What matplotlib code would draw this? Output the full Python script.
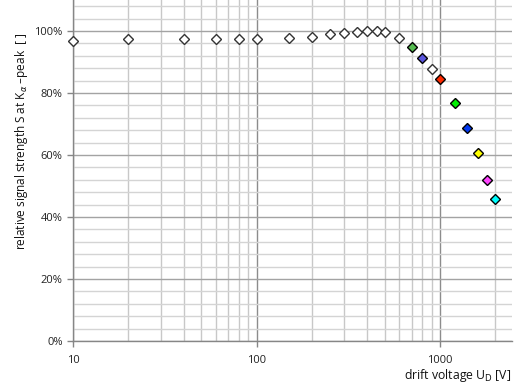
import matplotlib
matplotlib.use("Agg")
import matplotlib.pyplot as plt
from matplotlib.ticker import FixedLocator, NullFormatter, FuncFormatter, MultipleLocator

plt.rcParams['font.family'] = ['Open Sans', 'DejaVu Sans']
plt.rcParams['mathtext.fontset'] = 'dejavusans'

# drift voltage [V] and relative signal strength
voltage = [10, 20, 40, 60, 80, 100, 150, 200, 250, 300, 350, 400, 450, 500,
           600, 700, 800, 900, 1000, 1200, 1400, 1600, 1800, 2000]
signal = [0.968, 0.974, 0.974, 0.974, 0.974, 0.974, 0.979, 0.982, 0.989, 0.994,
          0.997, 0.999, 0.999, 0.997, 0.979, 0.948, 0.914, 0.879, 0.845,
          0.768, 0.688, 0.606, 0.518, 0.458]
face = ['white'] * 15 + ['#55bb50', '#5a55dd', 'white', '#ff2a00',
                         '#00ee00', '#0038f0', '#ffff00', '#ff44ff', '#00ffff']

fig = plt.figure(figsize=(5.18, 3.90), dpi=100)
ax = fig.add_axes([73 / 518, 1 - 341 / 390, (512 - 73) / 518, 341 / 390])

ax.set_xscale('log')
ax.set_xlim(10, 2460)
ax.set_ylim(0, 1.10)

ax.yaxis.set_major_locator(MultipleLocator(0.2))
ax.yaxis.set_minor_locator(MultipleLocator(0.04))
ax.yaxis.set_major_formatter(FuncFormatter(lambda v, p: f"{v * 100:.0f}%"))
ax.xaxis.set_major_locator(FixedLocator([10, 100, 1000]))
ax.xaxis.set_major_formatter(FuncFormatter(lambda v, p: f"{v:.0f}"))
minors = [m * d for d in (10, 100, 1000) for m in range(2, 10)]
ax.xaxis.set_minor_locator(FixedLocator(minors))
ax.xaxis.set_minor_formatter(NullFormatter())

ax.grid(True, which='major', axis='y', color='#a3a3a3', lw=1.0)
ax.grid(True, which='minor', axis='y', color='#d4d4d4', lw=1.0)
ax.grid(True, which='major', axis='x', color='#8c8c8c', lw=1.0)
ax.grid(True, which='minor', axis='x', color='#c8c8c8', lw=1.0)
ax.set_axisbelow(True)

for s in ('top', 'right'):
    ax.spines[s].set_visible(False)
for s in ('left', 'bottom'):
    ax.spines[s].set_color('#868686')
    ax.spines[s].set_linewidth(1.0)

ax.tick_params(axis='both', which='major', length=4, width=1, color='#868686',
               labelsize=8, labelcolor='#222222')
ax.tick_params(axis='both', which='minor', length=0)
ax.tick_params(axis='x', pad=6)

for v, s, fc in zip(voltage, signal, face):
    white = fc == 'white'
    ax.plot([v], [s], linestyle='none', marker='D',
            markersize=5.0 if white else 5.6,
            markerfacecolor=fc, markeredgecolor='#333333' if white else 'black',
            markeredgewidth=1.0, clip_on=False, zorder=3)

ax.set_ylabel(r"relative signal strength S at K$_\alpha$ –peak  [ ]",
              fontsize=8.5, color='#111111')
ax.yaxis.set_label_coords(-0.098, 0.585)
fig.text(511 / 518, 1 - 376 / 390, r"drift voltage U$_\mathrm{D}$ [V]",
         fontsize=8.8, color='#111111', ha='right', va='center')

fig.savefig("out.png", dpi=100)
